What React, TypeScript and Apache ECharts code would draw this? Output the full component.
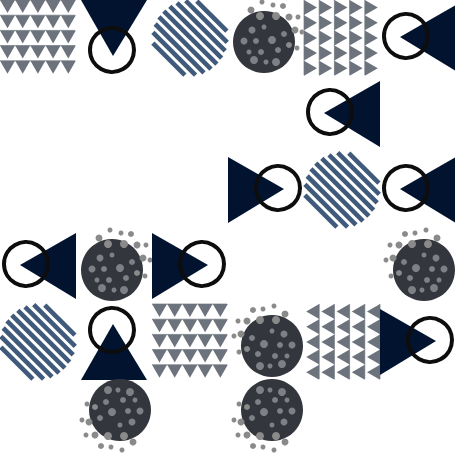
import React, { useEffect, useRef } from 'react'
import * as echarts from 'echarts'

// tile grid: 6 x 6, each tile has a kind and an orientation
const tileCols = [0, 1, 2, 3, 4, 5, 4, 3, 4, 5, 0, 1, 2, 5, 0, 1, 2, 3, 4, 5, 1, 3]
const tileRows = [0, 0, 0, 0, 0, 0, 1, 2, 2, 2, 3, 3, 3, 3, 4, 4, 4, 4, 4, 4, 5, 5]
const tileKinds = [
  'pattern', 'ringTri', 'stripes', 'dots', 'pattern', 'ringTri',
  'ringTri',
  'ringTri', 'stripes', 'ringTri',
  'ringTri', 'dots', 'ringTri', 'dots',
  'stripes', 'ringTri', 'pattern', 'dots', 'pattern', 'ringTri',
  'dots', 'dots'
]
// down / up / left / right for triangles, tr / tl / bl for dot spray
const tileDirs = [
  'down', 'down', '', 'tr', 'right', 'left',
  'left',
  'right', '', 'left',
  'left', 'tr', 'right', 'tl',
  '', 'up', 'down', 'tl', 'left', 'right',
  'bl', 'bl'
]

// dots for a top-right spray: [dx, dy, r] from circle centre
const innerDots = [
  [-12, -12, 3.5], [0, -15, 2.5], [-20, -1, 3.5], [-8, -1, 3], [8, -2, 4], [-15, 10, 2.5],
  [-3, 10, 3], [-10, 18, 4], [2, 20, 2.5], [12, 20, 4], [20, -8, 3], [14, 8, 3]
]
const sprayDots = [
  [-13, -32, 3.5], [-2, -40, 2.5], [9, -37, 2.5], [19, -36, 3], [12, -26, 4], [25, -25, 3.5],
  [34, -25, 2.5], [31, -12, 3.5], [38, -10, 2.5], [25, 3, 3], [33, 6, 2.5], [-4, -26, 4]
]

const NAVY = '#01132f'
const GREY = '#6c737c'
const STRIPE = '#3f5a7a'
const DARK = '#33373d'

const App: React.FC = () => {
  const chartRef = useRef<HTMLDivElement>(null)

  useEffect(() => {
    if (!chartRef.current) return
    document.body.style.margin = '0'
    const chart = echarts.init(chartRef.current, null, { renderer: 'svg' })

    const renderItem = (params: any, api: any) => {
      const col = api.value(0)
      const row = api.value(1)
      const idx = params.dataIndex
      const kind = tileKinds[idx]
      const dir = tileDirs[idx]
      const o = api.coord([col, row])
      const sz = api.size([1, 1])
      const k = sz[0] / 76
      const T = 76
      const map = (u: number, v: number) => {
        let x = u
        let y = v
        if (dir === 'up') { x = u; y = T - v }
        else if (dir === 'left') { x = T - v; y = u }
        else if (dir === 'right') { x = v; y = u }
        return [o[0] + x * k, o[1] + y * k]
      }
      const children: any[] = []
      if (kind === 'ringTri') {
        children.push({
          type: 'polygon',
          shape: { points: [map(5, 0), map(71, 0), map(37, 56)] },
          style: { fill: NAVY }
        })
        const c = map(36, 50)
        children.push({
          type: 'circle',
          shape: { cx: c[0], cy: c[1], r: 22 * k },
          style: { fill: 'none', stroke: '#0d0d0d', lineWidth: 4 * k }
        })
      } else if (kind === 'pattern') {
        for (let r = 0; r < 5; r++) {
          const v0 = r * 15.2
          children.push({
            type: 'line',
            shape: { x1: map(0, v0)[0], y1: map(0, v0)[1], x2: map(75, v0)[0], y2: map(75, v0)[1] },
            style: { stroke: '#9aa0a6', lineWidth: 1 * k }
          })
          for (let c = 0; c < 5; c++) {
            const u0 = c * 15.2
            children.push({
              type: 'polygon',
              shape: { points: [map(u0, v0), map(u0 + 15, v0), map(u0 + 7.5, v0 + 13)] },
              style: { fill: GREY }
            })
          }
        }
      } else if (kind === 'stripes') {
        const cx = o[0] + 38 * k
        const cy = o[1] + 38 * k
        const R = 37.5 * k
        const period = 7.6 * k
        const nx = Math.SQRT1_2
        const ny = -Math.SQRT1_2
        for (let d = -R; d <= R; d += period) {
          const half = Math.sqrt(Math.max(0, R * R - d * d))
          // line direction perpendicular to normal (nx, ny) -> (1/√2, 1/√2) i.e. "\"
          const px = cx + nx * d
          const py = cy + ny * d
          children.push({
            type: 'line',
            shape: {
              x1: px - Math.SQRT1_2 * half, y1: py - Math.SQRT1_2 * half,
              x2: px + Math.SQRT1_2 * half, y2: py + Math.SQRT1_2 * half
            },
            style: { stroke: STRIPE, lineWidth: 4.6 * k }
          })
        }
      } else if (kind === 'dots') {
        const sx = dir === 'tl' ? -1 : 1
        const sy = dir === 'bl' ? -1 : 1
        const ox = dir === 'tr' ? 36 : 44
        const oy = dir === 'bl' ? 30 : 42
        const cx = o[0] + ox * k
        const cy = o[1] + oy * k
        children.push({
          type: 'circle',
          shape: { cx, cy, r: 31 * k },
          style: { fill: DARK }
        })
        const bx = dir === 'bl' ? -1 : sx
        innerDots.concat(sprayDots).forEach((d, i) => {
          children.push({
            type: 'circle',
            shape: { cx: cx + d[0] * bx * k, cy: cy + d[1] * sy * k, r: d[2] * k },
            style: { fill: i < innerDots.length ? '#7d8186' : '#8a8a8a' }
          })
        })
      }
      return { type: 'group', children }
    }

    const option = {
      animation: false,
      grid: { left: 0, top: 0, right: 0, bottom: 0 },
      xAxis: { type: 'value', min: 0, max: 6, show: false },
      yAxis: { type: 'value', min: 0, max: 6, inverse: true, show: false },
      series: [
        {
          type: 'custom',
          renderItem,
          clip: false,
          data: tileCols.map((c, i) => [c, tileRows[i]])
        }
      ]
    }
    chart.setOption(option)
    return () => chart.dispose()
  }, [])

  return <div ref={chartRef} style={{ width: 456, height: 456, background: '#fff' }} />
}

export default App
